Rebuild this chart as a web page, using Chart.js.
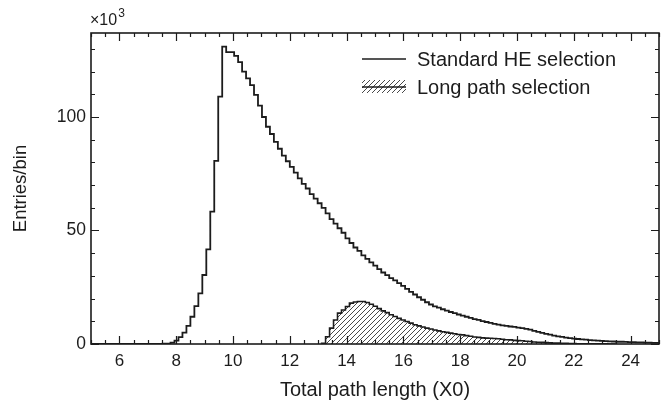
<!DOCTYPE html>
<html>
<head>
<meta charset="utf-8">
<script src="https://cdn.jsdelivr.net/npm/chart.js@4/dist/chart.umd.min.js"></script>
<style>
  html, body { margin: 0; padding: 0; background: #fff; }
  #wrap { width: 672px; height: 402px; }
</style>
</head>
<body>
<div id="wrap"><canvas id="chart" width="672" height="402"></canvas></div>
<script>
// histogram binning (X0)
var binStart = 5.0;
var binWidth = 0.14;

// Standard HE selection, entries/bin in thousands, one value per bin from binStart
var heSelection = [
  0, 0, 0, 0, 0, 0, 0, 0, 0, 0,
  0, 0, 0, 0, 0, 0, 0, 0, 0, 0.1,
  0.2, 0.6, 1.5, 3, 5, 8, 12, 16.7, 22.3, 30.4,
  41.7, 58.3, 80.7, 109, 131, 128.6, 128.6, 126.9, 124.2, 120,
  117, 114, 109.7, 105, 100, 95.7, 92.5, 89, 86, 83,
  80.5, 78, 75.5, 73, 70.5, 68.5, 66, 64, 62, 60,
  57.5, 55, 53, 51, 49, 46.5, 44.5, 42.5, 41, 39,
  37.5, 36, 34.5, 33, 31.5, 30.3, 29, 28, 26.8, 25.6,
  24.3, 23, 21.8, 20.6, 19.5, 18.4, 17.4, 16.6, 16, 15.3,
  14.7, 14.1, 13.6, 13, 12.5, 12, 11.5, 11, 10.6, 10.1,
  9.7, 9.3, 8.9, 8.5, 8.2, 8, 7.7, 7.5, 7.2, 7,
  6.7, 6.3, 5.8, 5.3, 4.9, 4.5, 4.1, 3.7, 3.4, 3.1,
  2.8, 2.6, 2.4, 2.2, 2, 1.9, 1.7, 1.6, 1.5, 1.4,
  1.3, 1.2, 1.1, 1, 1, 0.9, 0.8, 0.8, 0.7, 0.7,
  0.6, 0.6, 0.5
];

// Long path selection, starts at bin 58 (x = 13.12)
var longFirstBin = 58;
var longPath = [
  0.1, 0.3, 3.2, 7, 10.6, 13.6, 15, 16.5, 18, 18.5,
  18.7, 18.7, 18.3, 17.5, 16.6, 15.6, 14.6, 13.8, 12.9, 12.1,
  11.3, 10.6, 9.9, 9.2, 8.5, 8, 7.5, 7, 6.6, 6.2,
  5.8, 5.4, 5.1, 4.8, 4.5, 4.2, 4, 3.7, 3.4, 3.1,
  2.9, 2.7, 2.6, 2.5, 2.4, 2.3, 2.1, 1.9, 1.8, 1.6,
  1.5, 1.4, 1.2, 1.1, 0.9, 0.8, 0.7, 0.6, 0.5, 0.4,
  0.4, 0.3, 0.3, 0.2, 0.2, 0.1, 0.1, 0.1, 0.1, 0.1,
  0.1, 0.1, 0.1, 0
];

var seriesNames = ['Standard HE selection', 'Long path selection'];
var xTicks = [6, 8, 10, 12, 14, 16, 18, 20, 22, 24];
var yTicks = [0, 50, 100];
var xRange = [5, 25];
var yRange = [0, 137];

var ink = '#1c1c1c';
var fontFamily = '"Liberation Sans", Arial, Helvetica, sans-serif';

// turn a list of bin contents into step points at the bin edges
function toSteps(first, values) {
  var pts = values.map(function (v, i) {
    return { x: binStart + (first + i) * binWidth, y: v };
  });
  pts.push({ x: binStart + (first + values.length) * binWidth, y: values[values.length - 1] });
  return pts;
}

// diagonal hatch used under the long path histogram
function makeHatch() {
  var c = document.createElement('canvas');
  c.width = 5; c.height = 5;
  var g = c.getContext('2d');
  g.strokeStyle = '#333';
  g.lineWidth = 0.9;
  g.beginPath();
  g.moveTo(0, 5); g.lineTo(5, 0);
  g.moveTo(-1, 1); g.lineTo(1, -1);
  g.moveTo(4, 6); g.lineTo(6, 4);
  g.stroke();
  return g.createPattern(c, 'repeat');
}
var hatch = makeHatch();

// frame with inward ticks on all four sides, plus the x10^3 and legend
var frame = {
  id: 'frame',
  afterDatasetsDraw: function (chart) {
    var ctx = chart.ctx, a = chart.chartArea;
    var x = chart.scales.x, y = chart.scales.y;
    ctx.save();
    ctx.strokeStyle = ink;
    ctx.lineWidth = 1.2;
    ctx.beginPath();
    for (var v = xRange[0]; v <= xRange[1]; v += 0.5) {
      var px = Math.round(x.getPixelForValue(v)) + 0.5;
      var len = xTicks.indexOf(v) >= 0 ? 8 : 4;
      ctx.moveTo(px, a.bottom); ctx.lineTo(px, a.bottom - len);
      ctx.moveTo(px, a.top); ctx.lineTo(px, a.top + len);
    }
    for (var w = 0; w <= yRange[1]; w += 10) {
      var py = Math.round(y.getPixelForValue(w)) + 0.5;
      var l2 = yTicks.indexOf(w) >= 0 ? 8 : 4;
      ctx.moveTo(a.left, py); ctx.lineTo(a.left + l2, py);
      ctx.moveTo(a.right, py); ctx.lineTo(a.right - l2, py);
    }
    ctx.stroke();
    ctx.lineWidth = 1.6;
    ctx.strokeRect(a.left, a.top, a.right - a.left, a.bottom - a.top);
    ctx.restore();
  },
  afterDraw: function (chart) {
    var ctx = chart.ctx, a = chart.chartArea;
    ctx.save();
    ctx.fillStyle = ink;
    ctx.textBaseline = 'alphabetic';
    // exponent label
    ctx.font = '16px ' + fontFamily;
    ctx.fillText('\u00d710', a.left - 1, a.top - 8);
    var tw = ctx.measureText('\u00d710').width;
    ctx.font = '12px ' + fontFamily;
    ctx.fillText('3', a.left - 1 + tw + 1, a.top - 16);

    // legend
    var lx = a.left + 271, lw = 44, tx = a.left + 326;
    ctx.strokeStyle = ink;
    ctx.lineWidth = 1.6;
    ctx.beginPath();
    ctx.moveTo(lx, 59); ctx.lineTo(lx + lw, 59);
    ctx.stroke();
    ctx.fillStyle = hatch;
    ctx.fillRect(lx, 80, lw, 13);
    ctx.beginPath();
    ctx.moveTo(lx, 87); ctx.lineTo(lx + lw, 87);
    ctx.stroke();
    ctx.fillStyle = ink;
    ctx.font = '20px ' + fontFamily;
    ctx.textBaseline = 'middle';
    ctx.fillText(seriesNames[0], tx, 60);
    ctx.fillText(seriesNames[1], tx, 88);
    ctx.restore();
  }
};

var chart = new Chart(document.getElementById('chart'), {
  type: 'line',
  data: {
    datasets: [
      {
        label: seriesNames[0],
        data: toSteps(0, heSelection),
        stepped: 'after',
        borderColor: ink,
        borderWidth: 1.8,
        pointRadius: 0,
        fill: false
      },
      {
        label: seriesNames[1],
        data: toSteps(longFirstBin, longPath),
        stepped: 'after',
        borderColor: ink,
        borderWidth: 1.6,
        backgroundColor: hatch,
        pointRadius: 0,
        fill: 'origin'
      }
    ]
  },
  options: {
    responsive: false,
    animation: false,
    devicePixelRatio: 1,
    layout: { padding: { top: 33, right: 13, left: 0, bottom: 0 } },
    plugins: { legend: { display: false }, tooltip: { enabled: false } },
    scales: {
      x: {
        type: 'linear',
        min: xRange[0],
        max: xRange[1],
        grid: { display: false, drawTicks: false, tickLength: 0 },
        border: { display: false },
        afterBuildTicks: function (s) { s.ticks = xTicks.map(function (v) { return { value: v }; }); },
        afterFit: function (s) { s.height = 58; },
        ticks: { color: ink, font: { family: fontFamily, size: 17 }, padding: 7, maxRotation: 0 },
        title: {
          display: true,
          text: 'Total path length (X0)',
          color: ink,
          font: { family: fontFamily, size: 20 },
          padding: { top: 0, bottom: 0 }
        }
      },
      y: {
        min: yRange[0],
        max: yRange[1],
        grid: { display: false, drawTicks: false, tickLength: 0 },
        border: { display: false },
        afterBuildTicks: function (s) { s.ticks = yTicks.map(function (v) { return { value: v }; }); },
        afterFit: function (s) { s.width = 91; },
        ticks: { color: ink, font: { family: fontFamily, size: 17.5 }, padding: 5 },
        title: {
          display: true,
          text: 'Entries/bin',
          color: ink,
          font: { family: fontFamily, size: 18.5 },
          padding: { top: 10, bottom: 0 }
        }
      }
    }
  },
  plugins: [frame]
});
</script>
</body>
</html>
